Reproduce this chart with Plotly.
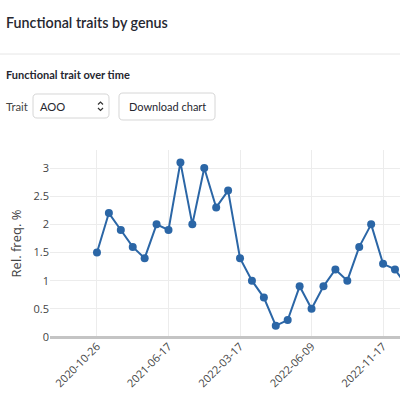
import plotly.graph_objects as go

# ---- data ----
dates = [
    "2020-10-26", "2020-11-23", "2021-01-12", "2021-02-18", "2021-03-24", "2021-05-06",
    "2021-06-17", "2021-07-29", "2021-09-08", "2021-10-21", "2021-12-02", "2022-01-27",
    "2022-03-17", "2022-03-31", "2022-04-14", "2022-04-28", "2022-05-12", "2022-05-26",
    "2022-06-09", "2022-07-07", "2022-08-04", "2022-08-25", "2022-09-22", "2022-10-20",
    "2022-11-17", "2022-12-15", "2023-01-12",
]
rel_freq = [
    1.5, 2.2, 1.9, 1.6, 1.4, 2.0,
    1.9, 3.1, 2.0, 3.0, 2.3, 2.6,
    1.4, 1.0, 0.7, 0.2, 0.3, 0.9,
    0.5, 0.9, 1.2, 1.0, 1.6, 2.0,
    1.3, 1.2, 0.9,
]
y_ticks = [0, 0.5, 1, 1.5, 2, 2.5, 3]
y_tick_text = ["0", "0.5", "1", "1.5", "2", "2.5", "3"]
x_tick_vals = dates[::6]

page_title = "Functional traits by genus"
section_title = "Functional trait over time"
trait_label = "Trait"
trait_value = "AOO"
button_label = "Download chart"

# ---- layout helpers (pixel -> paper) ----
W, H = 400, 400
ML, MR, MT, MB = 50, 0, 150, 63
PW, PH = W - ML - MR, H - MT - MB


def px(x):
    return (x - ML) / PW


def py(y):
    return (H - MB - y) / PH


def rrect_path(x0, y0, x1, y1, r):
    pts = [
        ("M", [(x0 + r, y0)]), ("L", [(x1 - r, y0)]), ("Q", [(x1, y0), (x1, y0 + r)]),
        ("L", [(x1, y1 - r)]), ("Q", [(x1, y1), (x1 - r, y1)]),
        ("L", [(x0 + r, y1)]), ("Q", [(x0, y1), (x0, y1 - r)]),
        ("L", [(x0, y0 + r)]), ("Q", [(x0, y0), (x0 + r, y0)]),
    ]
    s = ""
    for cmd, ps in pts:
        s += cmd + " " + " ".join(f"{px(a):.5f},{py(b):.5f}" for a, b in ps) + " "
    return s + "Z"


def poly_path(points):
    return "M " + " L ".join(f"{px(a):.5f},{py(b):.5f}" for a, b in points)


fig = go.Figure()
fig.add_trace(go.Scatter(
    x=dates, y=rel_freq, mode="lines+markers",
    line=dict(color="#2b66a6", width=2),
    marker=dict(color="#2b66a6", size=8),
    showlegend=False,
))

ui_font = "Lato, sans-serif"
annotations = [
    dict(text=page_title, x=px(4), y=py(22), xanchor="left", yanchor="middle",
         font=dict(family=ui_font, size=14.3, color="#262730", weight=600)),
    dict(text=section_title, x=px(4), y=py(75), xanchor="left", yanchor="middle",
         font=dict(family=ui_font, size=11, color="#262730", weight=700)),
    dict(text=trait_label, x=px(4), y=py(106), xanchor="left", yanchor="middle",
         font=dict(family=ui_font, size=11.3, color="#444")),
    dict(text=trait_value, x=px(38), y=py(106), xanchor="left", yanchor="middle",
         font=dict(family=ui_font, size=11.2, color="#262730")),
    dict(text=button_label, x=px(167), y=py(106.5), xanchor="center", yanchor="middle",
         font=dict(family=ui_font, size=11, color="#262730")),
]
for a in annotations:
    a.update(xref="paper", yref="paper", showarrow=False)

shapes = [
    dict(type="line", xref="paper", yref="paper", x0=px(0), x1=px(400), y0=py(54), y1=py(54),
         line=dict(color="#e6e6e6", width=1)),
    dict(type="path", xref="paper", yref="paper", path=rrect_path(33, 94, 109, 118, 4),
         line=dict(color="#d6d6d6", width=1), fillcolor="white"),
    dict(type="path", xref="paper", yref="paper", path=rrect_path(119, 93, 215, 120, 4),
         line=dict(color="#d6d6d6", width=1), fillcolor="white"),
    dict(type="path", xref="paper", yref="paper", path=poly_path([(98, 104.5), (100.5, 102), (103, 104.5)]),
         line=dict(color="#333", width=1.2)),
    dict(type="path", xref="paper", yref="paper", path=poly_path([(98, 108), (100.5, 110.5), (103, 108)]),
         line=dict(color="#333", width=1.2)),
]

fig.update_layout(
    width=W, height=H,
    margin=dict(l=ML, r=MR, t=MT, b=MB, autoexpand=False),
    paper_bgcolor="white", plot_bgcolor="white",
    font=dict(family="Open Sans, Verdana, Arial, sans-serif", color="#444"),
    annotations=annotations, shapes=shapes,
    xaxis=dict(
        type="category", range=[-3.94, 25.42], tickmode="array", tickvals=x_tick_vals,
        tickangle=-45, tickfont=dict(size=11, color="#444"),
        showgrid=True, gridcolor="#ececec", gridwidth=1,
        showline=False, zeroline=False, ticks="",
    ),
    yaxis=dict(
        range=[0, 3.32], tickmode="array", tickvals=y_ticks, ticktext=y_tick_text,
        tickfont=dict(size=11, color="#444"),
        showgrid=True, gridcolor="#ececec", gridwidth=1,
        zeroline=True, zerolinecolor="#c4c4c4", zerolinewidth=2.5,
        title=dict(text="Rel. freq. %", font=dict(size=13, color="#444"), standoff=8),
        automargin=False, ticks="",
    ),
)

fig.write_html("out.html", config={"displayModeBar": False})
